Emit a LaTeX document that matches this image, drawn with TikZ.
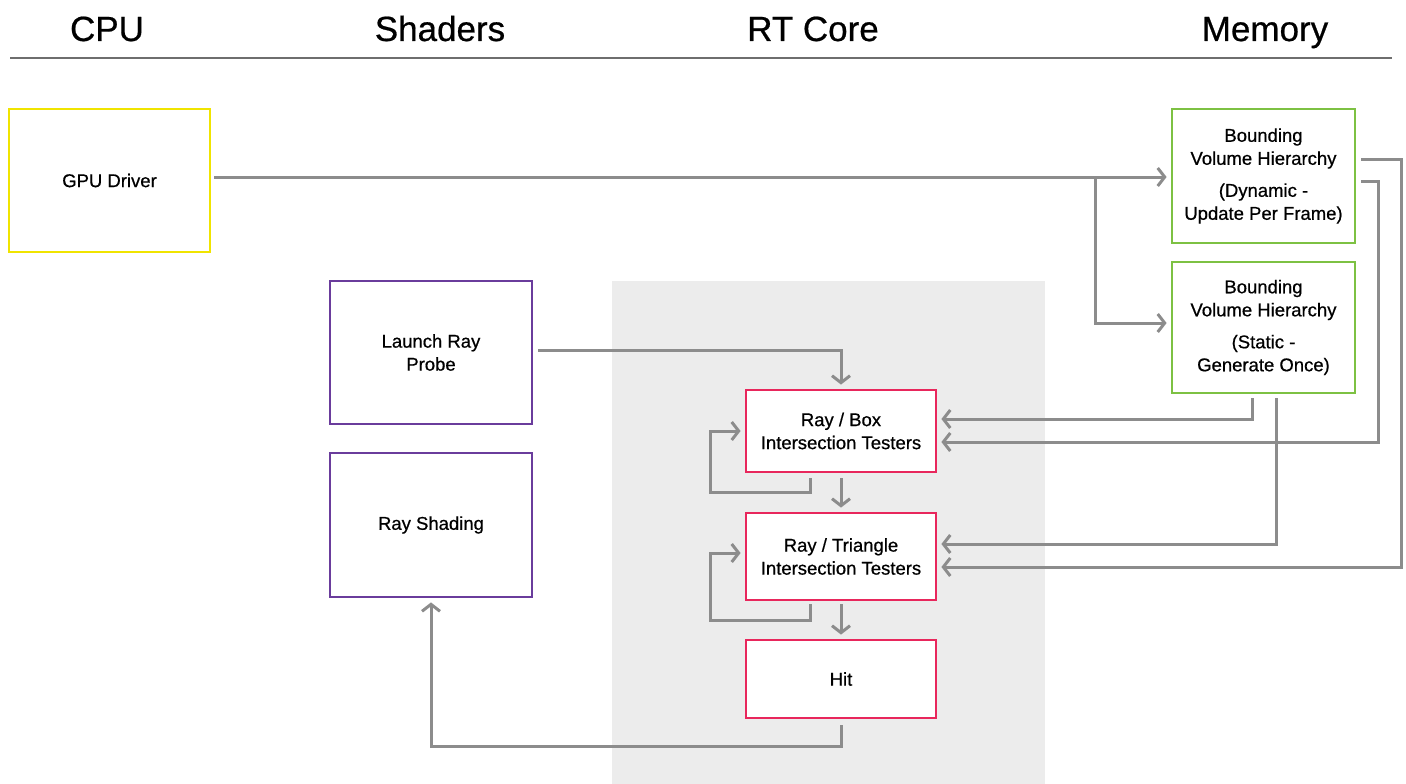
\documentclass[tikz,border=0pt]{standalone}
\usepackage{fontspec}
\setmainfont{Liberation Sans}
\newfontfamily\medf{Liberation Sans}[FakeBold=0.6]
\usetikzlibrary{arrows.meta,calc}
\definecolor{lineg}{HTML}{8C8C8C}
\definecolor{rule}{HTML}{6E6E6E}
\definecolor{bgg}{HTML}{ECECEC}
\definecolor{yel}{HTML}{F0E400}
\definecolor{grn}{HTML}{7DC143}
\definecolor{pur}{HTML}{6A3C9C}
\definecolor{red}{HTML}{E8275C}
\begin{document}
\begin{tikzpicture}[x=1pt,y=-1pt,
  box/.style={draw=#1, line width=2.8pt, fill=white, inner sep=0pt, align=center,
    font=\medf\fontsize{18.5}{23}\selectfont},
  conn/.style={draw=lineg, line width=3pt,
    -{Straight Barb[length=7pt,width=18pt,line width=3pt]}},
  head/.style={font=\medf\fontsize{35}{40}\selectfont, anchor=base}]
\useasboundingbox (0,0) rectangle (1406,784);
% background of RT core
\node[fill=bgg, inner sep=0pt, minimum width=433pt, minimum height=503pt] (rtbg) at (828.5,532.5) {};
% headings
\node[head] (hcpu) at (107,41) {CPU};
\node[head] (hsh) at (440,41) {Shaders};
\node[head] (hrt) at (813,41) {RT Core};
\node[head] (hmem) at (1265,41) {Memory};
\draw[rule, line width=2pt] (10,58) -- (1392,58);
% boxes
\node[box=yel, minimum width=201pt, minimum height=143pt] (gpu) at (109.5,180.5) {GPU Driver};
\node[box=grn, minimum width=183pt, minimum height=134pt] (bvhd) at (1263.5,176)
  {Bounding\\Volume Hierarchy\\[9pt](Dynamic -\\Update Per Frame)};
\node[box=grn, minimum width=183pt, minimum height=131pt] (bvhs) at (1263.5,327.5)
  {Bounding\\Volume Hierarchy\\[9pt](Static -\\Generate Once)};
\node[box=pur, minimum width=202pt, minimum height=143pt] (launch) at (431,352.5)
  {Launch Ray\\Probe};
\node[box=pur, minimum width=202pt, minimum height=144pt] (shade) at (431,525) {Ray Shading};
\node[box=red, minimum width=190pt, minimum height=82pt] (rbox) at (841,431)
  {Ray / Box\\Intersection Testers};
\node[box=red, minimum width=190pt, minimum height=87pt] (rtri) at (841,556.5)
  {Ray / Triangle\\Intersection Testers};
\node[box=red, minimum width=190pt, minimum height=78pt] (hit) at (841,679) {Hit};
% connectors
\coordinate (j) at (1095,177);
\draw[conn, shorten >=4pt] ([xshift=3pt,yshift=3.5pt]gpu.east) -- (j) -- (j -| bvhd.west);
\draw[conn, shorten >=4pt] (j) |- ([yshift=4.5pt]bvhs.west);
\draw[conn, shorten >=4pt] ([xshift=5pt,yshift=2.5pt]launch.east) -| (rbox.north);
\draw[conn, shorten <=5pt, shorten >=4pt] (rbox.south) -- (rtri.north);
\draw[conn, shorten <=3pt, shorten >=4pt] (rtri.south) -- (hit.north);
\draw[conn, shorten >=4pt] ([yshift=-6pt]hit.south) -- ++(0,21) -| (shade.south);
% self loops
\draw[conn, shorten >=4pt] ([xshift=-31pt,yshift=-5pt]rbox.south) -- ++(0,14) -- ++(-100,0) |- (rbox.west);
\draw[conn, shorten >=4pt] ([xshift=-31pt,yshift=-3pt]rtri.south) -- ++(0,16) -- ++(-100,0) |- ([yshift=3.5pt]rtri.west);
% memory feeds
\draw[conn, shorten >=4pt] ([xshift=-11.5pt,yshift=-4pt]bvhs.south) |- ([yshift=12pt]rbox.east);
\draw[conn, shorten >=4pt] ([xshift=12.5pt,yshift=-4pt]bvhs.south) |- ([yshift=12.5pt]rtri.east);
\draw[conn, shorten >=4pt] ([xshift=5pt,yshift=17pt]bvhd.east) -- ++(40,0) |- ([yshift=-10.5pt]rtri.east);
\draw[conn, shorten >=4pt] ([xshift=5pt,yshift=-5pt]bvhd.east) -- ++(17,0) |- ([yshift=-11pt]rbox.east);
\end{tikzpicture}
\end{document}
